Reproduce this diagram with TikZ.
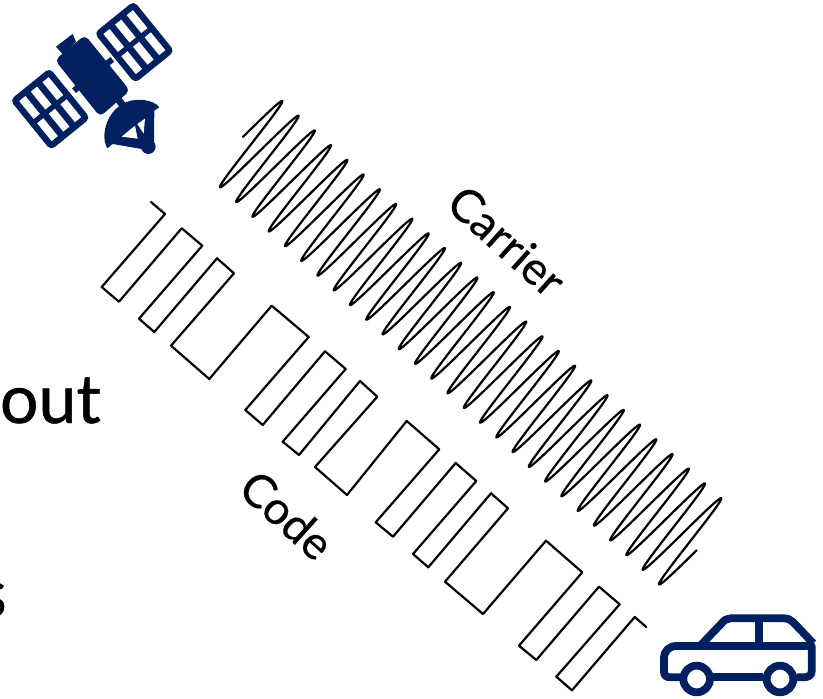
\documentclass[tikz,border=0pt]{standalone}
\usepackage{fontspec}
\setmainfont{Lato}
\newfontfamily\labfont[FakeBold=0.35]{Lato}
\newfontfamily\cutfont[FakeBold=0.7]{Lato}
\definecolor{navy}{HTML}{002060}
\newcommand{\satpanel}{%
  \fill[navy,rounded corners=5pt] (0,0) rectangle (64.6,51);
  \foreach \cx in {6.5,35}{\foreach \cy in {6.5,21.5,36.5}{
    \fill[white] (\cx,\cy) rectangle ++(23,8);}}
}
\tikzset{
  signal/.style={line width=2.2pt,line join=round,line cap=round,black},
  carline/.style={draw=navy,line width=7.8pt,line join=round},
  label/.style={font=\labfont\fontsize{46}{46}\selectfont,inner sep=0pt},
  cut/.style={font=\cutfont\fontsize{68}{68}\selectfont,inner sep=0pt,anchor=base east}
}
\begin{document}
\begin{tikzpicture}[x=1pt,y=-1pt]
\useasboundingbox (0,0) rectangle (823,699);
% satellite
\begin{scope}[shift={(133.9,1)},rotate=-51]\satpanel\end{scope}
\begin{scope}[shift={(49.7,68)},rotate=-51]\satpanel\end{scope}
\begin{scope}[x=.3333pt,y=-.3333pt]
  \fill[navy,rounded corners=5pt] (255,105) -- (390,272) -- (300,350) -- (165,180) -- cycle;
  \fill[navy] (168,140) -- (218,102) -- (228,125) -- (190,165) -- cycle;
  \draw[navy,line width=6pt] (222,272) -- (337,178);
  \draw[navy,line width=7pt] (345,285) -- (375,325);
  \fill[navy] (322,445) .. controls (295,400) and (330,290) .. (430,300)
     .. controls (450,302) and (470,310) .. (478,322)
     -- (463,332) -- (462,430) -- (425,447) -- (338,432) -- cycle;
  \fill[white] (365,410) -- (405,377) -- (413,416) -- cycle;
  \fill[white] (412,372) -- (435,356) -- (431,401) -- cycle;
  \fill[navy] (445,440) circle (22);
\end{scope}
% carrier wave
\draw[signal] plot[domain=0:56,samples=1121,variable=\t]
  ({243+8.13*\t+35.23*sin(180*\t)},{136.8+7.355*\t-39.48*sin(180*\t)});
% code signal
\draw[signal] (151,202) -- (165,214) -- (101.7,287) -- (119,301.7) -- (181.7,228.3)
  -- (202.3,245.7) -- (139,318.7) -- (154.3,332) -- (217,258.3) -- (234,273.3)
  -- (171,345.7) -- (209.3,379) -- (271.7,305.7) -- (308.7,337) -- (245.3,410)
  -- (262.7,425) -- (325,351.3) -- (345.7,369) -- (282.7,441.7) -- (299,455)
  -- (360,381) -- (377.3,396.7) -- (315,467) -- (347,495) -- (406.7,421)
  -- (439.3,449.3) -- (375.7,522.3) -- (393,536.7) -- (455.7,463) -- (476.3,481)
  -- (413,554) -- (428.3,567.3) -- (491,493.3) -- (508,508.3) -- (445,581.7)
  -- (483,614) -- (546,540.7) -- (582.3,572.3) -- (519,645.7) -- (536.3,660)
  -- (599,586.7) -- (619.7,604.3) -- (556.3,676.7) -- (572,690.3) -- (634.7,617)
  -- (646.3,627);
% car
\begin{scope}[shift={(640,590)},x=.3333pt,y=-.3333pt]
  \draw[carline] (120,262) -- (92,262) .. controls (78,262) and (72,256) .. (72,245)
    -- (72,205) .. controls (72,182) and (88,168) .. (110,168) -- (515,168)
    -- (515,245) .. controls (515,256) and (505,262) .. (490,262) -- (470,262);
  \draw[carline] (220,262) -- (370,262);
  \draw[carline] (180,168) -- (245,100) .. controls (252,90) and (262,85) .. (272,85)
    -- (432,85) .. controls (445,85) and (453,90) .. (460,97) -- (520,160);
  \draw[carline] (358,85) -- (358,168);
  \draw[carline] (170,267) circle (40);
  \draw[carline] (420,267) circle (40);
\end{scope}
% labels
\node[label,rotate=-42] (carrier) at (507,241) {Carrier};
\node[label,rotate=-42] (code) at (287,515) {Code};
\node[cut] (out) at (101,423) {out};
\node[cut] (s) at (7,617) {s};
\end{tikzpicture}
\end{document}
